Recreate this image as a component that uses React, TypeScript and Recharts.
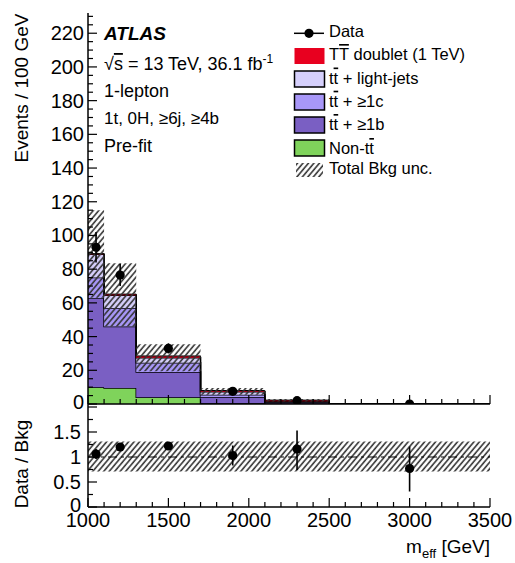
import React from 'react';
import { ComposedChart, Area, Scatter, ErrorBar, XAxis, YAxis, ReferenceLine } from 'recharts';

// bin edges in m_eff [GeV]; last bin 2500-3500
const edges = [1000, 1100, 1300, 1700, 2100, 2500, 3500];

// stacked backgrounds, events / 100 GeV, one value per bin
const nonTt = [10, 9.5, 4.0, 0.5, 0.2, 0];
const ttB = [52.7, 36.5, 15, 3.6, 0.7, 0];
const ttC = [12.3, 11, 5.5, 1.4, 0.3, 0];
const ttLight = [13.8, 7.6, 3, 1.7, 0.4, 0];
const signal = [0.4, 0.6, 1.0, 0.8, 0.7, 0];
const uncLo = [63, 46, 19.5, 5.5, 1.5, 0];
const uncHi = [115, 83.5, 35.5, 9.5, 3.0, 0];

// data points
const dataX = [1050, 1200, 1500, 1900, 2300, 3000];
const dataY = [93, 76.5, 33, 7.5, 2, 0];
const dataErr = [9, 6.5, 3, 1.4, 0.7, 0];

// ratio panel
const ratioY = [1.06, 1.2, 1.22, 1.03, 1.16, 0.77];
const ratioErrLo = [0.1, 0.08, 0.08, 0.2, 0.42, 0.46];
const ratioErrHi = [0.1, 0.08, 0.08, 0.2, 0.37, 0.44];
const ratioUncLo = [0.71, 0.71, 0.71, 0.71, 0.71, 0.71];
const ratioUncHi = [1.31, 1.31, 1.31, 1.31, 1.31, 1.31];

// ticks
const xTicks = Array.from({ length: 26 }, (_, i) => 1000 + i * 100);
const xLabels = [1000, 1500, 2000, 2500, 3000, 3500];
const yTicks = Array.from({ length: 47 }, (_, i) => i * 5);
const yLabels = [0, 20, 40, 60, 80, 100, 120, 140, 160, 180, 200, 220];
const rTicks = [0, 0.25, 0.5, 0.75, 1, 1.25, 1.5, 1.75, 2];
const rLabels = ['0', '0.5', '1', '1.5'];

const FONT = '"Liberation Sans", Arial, Helvetica, sans-serif';

const COLORS = {
  signal: '#e8001f',
  light: '#d6d0fc',
  c: '#a897f8',
  b: '#7a5fc3',
  nonTt: '#7fd35b',
};

type Side = 'bottom' | 'top' | 'left' | 'right';

const inTick = (side: Side, isMajor: (v: number) => boolean, label?: (v: number) => string | null, off = 0, dy = 7) =>
  (props: any) => {
    const { x, y, payload } = props;
    const v = payload.value;
    const len = isMajor(v) ? 9 : 5;
    const text = label ? label(v) : null;
    let x2 = x;
    let y2 = y;
    if (side === 'bottom') y2 = y - len;
    if (side === 'top') y2 = y + len;
    if (side === 'left') x2 = x + len;
    if (side === 'right') x2 = x - len;
    return (
      <g>
        <line x1={x} y1={y} x2={x2} y2={y2} stroke="#000" strokeWidth={1.2} />
        {text !== null && side === 'left' && (
          <text x={x - off} y={y + (v === 0 ? dy - 2 : dy)} textAnchor="end" fontSize={20} fill="#000">{text}</text>
        )}
        {text !== null && side === 'bottom' && (
          <text x={x} y={y + off} textAnchor="middle" fontSize={20} fill="#000">{text}</text>
        )}
      </g>
    );
  };

const majorX = (v: number) => v % 500 === 0;
const labelX = (v: number) => (xLabels.includes(v) ? String(v) : null);
const majorY = (v: number) => v % 20 === 0;
const labelY = (v: number) => (yLabels.includes(v) ? String(v) : null);
const majorR = (v: number) => Math.abs(v * 2 - Math.round(v * 2)) < 1e-6;
const labelR = (v: number) => (rLabels.includes(String(v)) ? String(v) : null);

const Dot = (p: any) => <circle cx={p.cx} cy={p.cy} r={4.6} fill="#000" />;

const axisLine = { stroke: '#000', strokeWidth: 1.5 };

function Box({ y, color, border = true }: { y: number; color: string; border?: boolean }) {
  return (
    <rect x={294.5} y={y} width={30} height={16} fill={color}
      stroke={border ? '#000' : 'none'} strokeWidth={1.5} />
  );
}

export default function App() {
  const binRows = edges.map((x, i) => {
    const b = Math.min(i, nonTt.length - 1);
    return {
      x,
      nonTt: nonTt[b],
      ttB: ttB[b],
      ttC: ttC[b],
      ttLight: ttLight[b],
      signal: signal[b],
      unc: [uncLo[b], uncHi[b]],
    };
  });
  const points = dataX.map((x, i) => ({ x, y: dataY[i], err: dataErr[i] }));
  const ratioBand = edges.map((x, i) => {
    const b = Math.min(i, ratioUncLo.length - 1);
    return { x, band: [ratioUncLo[b], ratioUncHi[b]] };
  });
  const ratioPts = dataX.map((x, i) => ({ x, r: ratioY[i], err: [ratioErrLo[i], ratioErrHi[i]] }));

  return (
    <div style={{ position: 'absolute', left: 0, top: 0, width: 515, height: 563, background: '#fff', fontFamily: FONT }}>
      <svg width={0} height={0} style={{ position: 'absolute' }}>
        <defs>
          <pattern id="hatch" width={4.2} height={4.2} patternUnits="userSpaceOnUse" patternTransform="rotate(40)">
            <line x1={1} y1={0} x2={1} y2={4.2} stroke="#333" strokeWidth={1.6} />
          </pattern>
        </defs>
      </svg>

      {/* main panel */}
      <div style={{ position: 'absolute', left: 0, top: 0 }}>
        <ComposedChart width={515} height={420} data={binRows} margin={{ top: 13, right: 25, bottom: 0, left: 0 }}>
          <Area type="stepAfter" dataKey="nonTt" stackId="s" fill={COLORS.nonTt} fillOpacity={1} stroke="#000" strokeWidth={1.5} dot={false} activeDot={false} isAnimationActive={false} />
          <Area type="stepAfter" dataKey="ttB" stackId="s" fill={COLORS.b} fillOpacity={1} stroke="#000" strokeWidth={1.5} dot={false} activeDot={false} isAnimationActive={false} />
          <Area type="stepAfter" dataKey="ttC" stackId="s" fill={COLORS.c} fillOpacity={1} stroke="#000" strokeWidth={1.5} dot={false} activeDot={false} isAnimationActive={false} />
          <Area type="stepAfter" dataKey="ttLight" stackId="s" fill={COLORS.light} fillOpacity={1} stroke="#000" strokeWidth={1.5} dot={false} activeDot={false} isAnimationActive={false} />
          <Area type="stepAfter" dataKey="signal" stackId="s" fill={COLORS.signal} fillOpacity={1} stroke="#000" strokeWidth={1} dot={false} activeDot={false} isAnimationActive={false} />
          <Area type="stepAfter" dataKey="unc" fill="url(#hatch)" fillOpacity={1} stroke="none" dot={false} activeDot={false} isAnimationActive={false} />
          <Scatter data={points} dataKey="y" shape={Dot} isAnimationActive={false}>
            <ErrorBar dataKey="err" direction="y" width={0} stroke="#000" strokeWidth={1.6} />
          </Scatter>

          <XAxis dataKey="x" type="number" domain={[1000, 3500]} allowDataOverflow ticks={xTicks} interval={0}
            height={16} tickSize={0} tickMargin={0} tickLine={false} axisLine={axisLine} tick={inTick('bottom', majorX)} />
          <XAxis xAxisId="t" orientation="top" dataKey="x" type="number" domain={[1000, 3500]} allowDataOverflow ticks={xTicks} interval={0}
            height={0} tickSize={0} tickMargin={0} tickLine={false} axisLine={axisLine} tick={inTick('top', majorX)} />
          <YAxis type="number" domain={[0, 232]} allowDataOverflow ticks={yTicks} interval={0} width={88}
            tickSize={0} tickMargin={0} tickLine={false} axisLine={axisLine} tick={inTick('left', majorY, labelY, 4, 7)} />
          <YAxis yAxisId="r" orientation="right" type="number" domain={[0, 232]} allowDataOverflow ticks={yTicks} interval={0} width={0}
            tickSize={0} tickMargin={0} tickLine={false} axisLine={axisLine} tick={inTick('right', majorY)} />
        </ComposedChart>
      </div>

      {/* ratio panel */}
      <div style={{ position: 'absolute', left: 0, top: 404 }}>
        <ComposedChart width={515} height={159} data={ratioBand} margin={{ top: 0, right: 25, bottom: 0, left: 0 }}>
          <Area type="stepAfter" dataKey="band" fill="url(#hatch)" fillOpacity={1} stroke="none" dot={false} activeDot={false} isAnimationActive={false} />
          <ReferenceLine y={1} stroke="#000" strokeWidth={1.2} strokeDasharray="9 4 3 4" />
          <Scatter data={ratioPts} dataKey="r" shape={Dot} isAnimationActive={false}>
            <ErrorBar dataKey="err" direction="y" width={0} stroke="#000" strokeWidth={1.6} />
          </Scatter>

          <XAxis dataKey="x" type="number" domain={[1000, 3500]} allowDataOverflow ticks={xTicks} interval={0}
            height={56} tickSize={0} tickMargin={0} tickLine={false} axisLine={axisLine} tick={inTick('bottom', majorX, labelX, 20)} />
          <XAxis xAxisId="t" orientation="top" dataKey="x" type="number" domain={[1000, 3500]} allowDataOverflow ticks={xTicks} interval={0}
            height={0} tickSize={0} tickMargin={0} tickLine={false} axisLine={axisLine} tick={inTick('top', majorX)} />
          <YAxis type="number" domain={[0, 2.06]} allowDataOverflow ticks={rTicks} interval={0} width={88}
            tickSize={0} tickMargin={0} tickLine={false} axisLine={axisLine} tick={inTick('left', majorR, labelR, 7, 7)} />
          <YAxis yAxisId="r" orientation="right" type="number" domain={[0, 2.06]} allowDataOverflow ticks={rTicks} interval={0} width={0}
            tickSize={0} tickMargin={0} tickLine={false} axisLine={axisLine} tick={inTick('right', majorR)} />
        </ComposedChart>
      </div>

      {/* labels, legend */}
      <svg width={515} height={563} style={{ position: 'absolute', left: 0, top: 0, pointerEvents: 'none' }}>
        <text x={104} y={39.5} fontSize={19} fontWeight="bold" fontStyle="italic">ATLAS</text>
        <text x={104} y={70} fontSize={18}>
          √<tspan textDecoration="overline">s</tspan> = 13 TeV, 36.1 fb<tspan dy={-7} fontSize={12}>-1</tspan>
        </text>
        <text x={104} y={96.5} fontSize={18}>1-lepton</text>
        <text x={104} y={124} fontSize={17}>1t, 0H, ≥6j, ≥4b</text>
        <text x={104} y={151.5} fontSize={18}>Pre-fit</text>

        <line x1={294} y1={33.3} x2={324} y2={33.3} stroke="#000" strokeWidth={1.5} />
        <circle cx={309} cy={33.3} r={4.6} fill="#000" />
        <text x={329} y={37} fontSize={16.5}>Data</text>

        <Box y={48} color={COLORS.signal} border={false} />
        <text x={329} y={60} fontSize={16.5}>T<tspan textDecoration="overline">T</tspan> doublet (1 TeV)</text>

        <Box y={71} color={COLORS.light} />
        <text x={329} y={83.5} fontSize={16.5}>t<tspan textDecoration="overline">t</tspan> + light-jets</text>

        <Box y={94} color={COLORS.c} />
        <text x={329} y={106.7} fontSize={16.5}>t<tspan textDecoration="overline">t</tspan> + ≥1c</text>

        <Box y={117} color={COLORS.b} />
        <text x={329} y={130} fontSize={16.5}>t<tspan textDecoration="overline">t</tspan> + ≥1b</text>

        <Box y={140} color={COLORS.nonTt} />
        <text x={329} y={154} fontSize={16.5}>Non-t<tspan textDecoration="overline">t</tspan></text>

        <rect x={296} y={163} width={27} height={14} fill="url(#hatch)" />
        <text x={329} y={173.5} fontSize={16.5}>Total Bkg unc.</text>

        <text transform="translate(28,88) rotate(-90)" textAnchor="middle" fontSize={19}>Events / 100 GeV</text>
        <text transform="translate(28,464) rotate(-90)" textAnchor="middle" fontSize={19}>Data / Bkg</text>
        <text x={490} y={553} textAnchor="end" fontSize={19}>
          m<tspan dy={5} fontSize={13}>eff</tspan><tspan dy={-5}> [GeV]</tspan>
        </text>
      </svg>
    </div>
  );
}
